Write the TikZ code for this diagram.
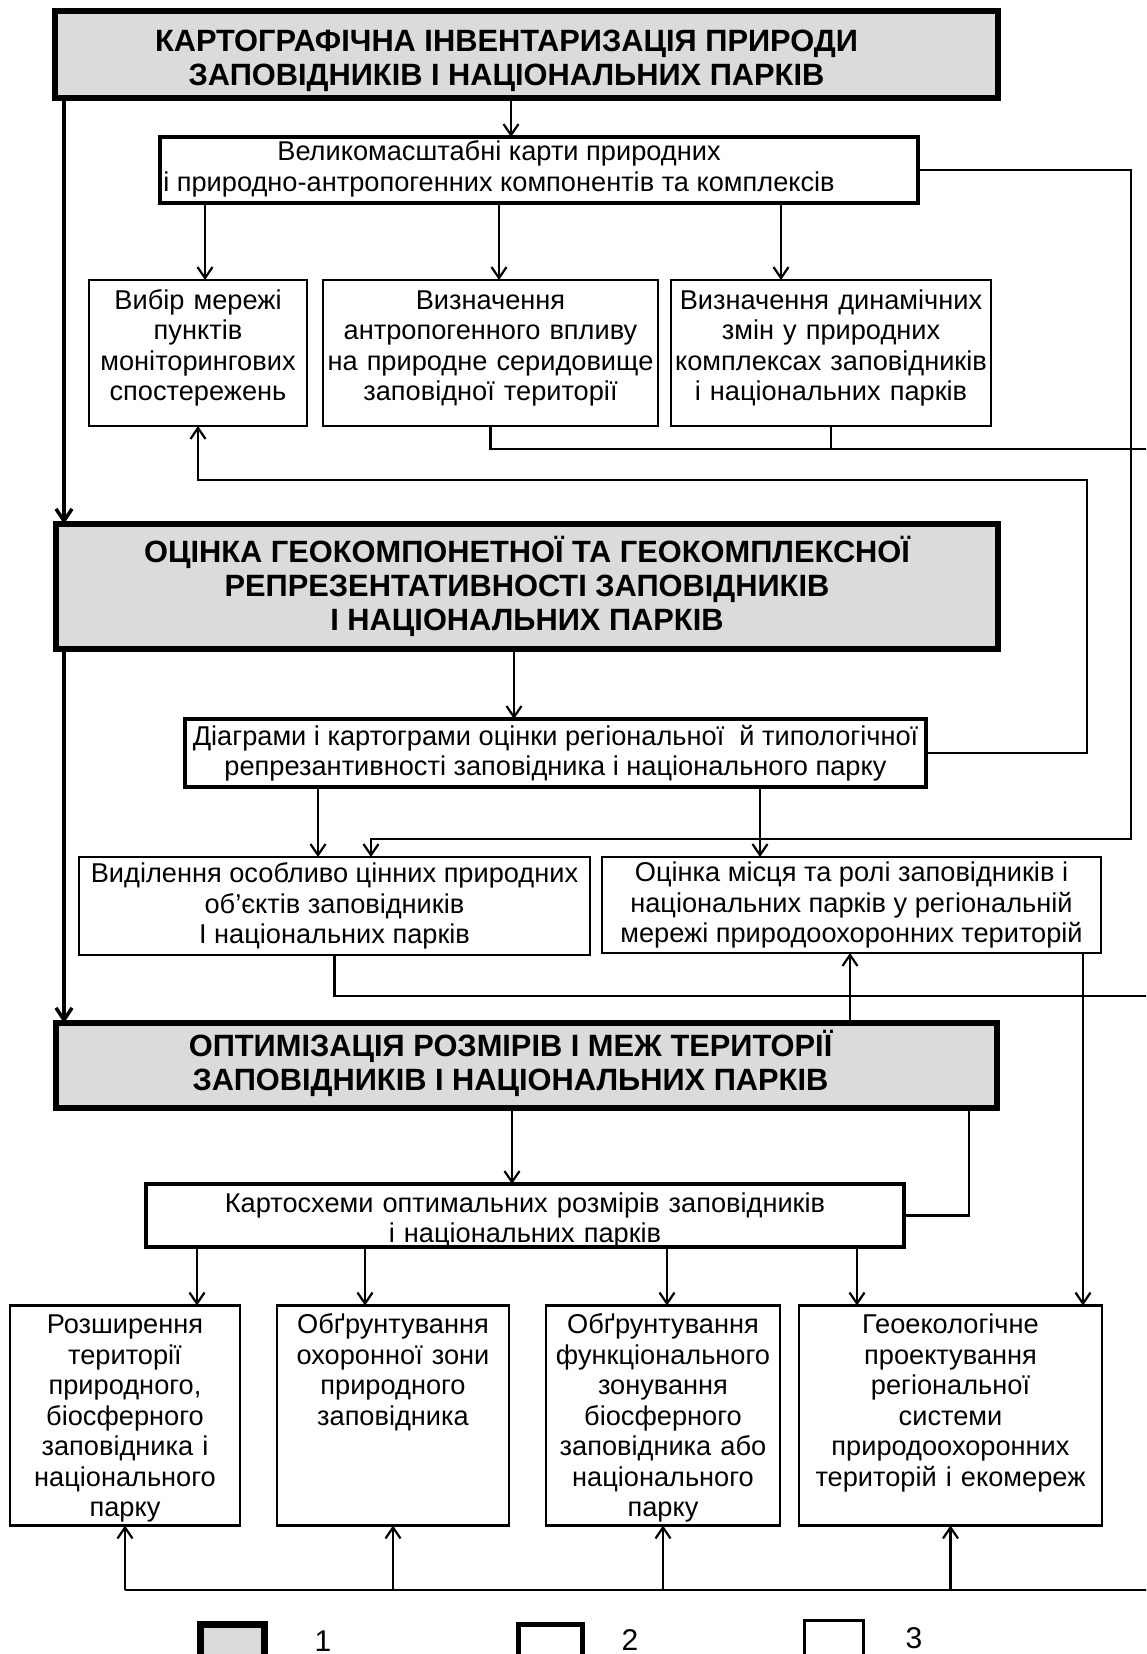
\documentclass[tikz,border=0pt]{standalone}
\usepackage{fontspec}
\setmainfont{Liberation Sans}
\usetikzlibrary{arrows.meta,calc,positioning}

\begin{document}
\begin{tikzpicture}[
          x=1pt, y=-1pt,
          every node/.style={inner sep=0pt, outer sep=0pt},
          head/.style={draw, line width=6.5pt, fill=black!14, align=center, font=\fontsize{30.8}{34}\selectfont\bfseries},
          mainbox/.style={draw, line width=4.5pt, fill=white, align=center, font=\fontsize{27.2}{30.5}\selectfont},
          box/.style={draw, line width=2.5pt, fill=white, align=center, font=\fontsize{27.2}{30.5}\selectfont},
          topbox/.style={box, anchor=north, inner ysep=6pt},
          tallbox/.style={topbox, text height=22pt, text depth=186pt},
          legtext/.style={anchor=base, font=\fontsize{30}{34}\selectfont},
          link/.style={line width=2.2pt},
          arr/.style={link, -{Straight Barb[length=11pt, width=15pt]}},
          trunk/.style={line width=3.5pt, -{Straight Barb[length=12pt, width=16pt]}}
      ]
        \useasboundingbox[fill=white] (0,0) rectangle (1146,1654);
        \clip (0,0) rectangle (1146,1654);

        % first stage
        \node[head, minimum width=943, minimum height=87] (inv) at (526.5,54.5)
          {\raisebox{-7pt}[\height][\depth]{\begin{tabular}{@{}c@{}}КАРТОГРАФІЧНА ІНВЕНТАРИЗАЦІЯ ПРИРОДИ\\ЗАПОВІДНИКІВ І НАЦІОНАЛЬНИХ ПАРКІВ\end{tabular}}\hspace*{40pt}};
        \node[mainbox, minimum width=758, minimum height=66] (maps) at (539,170)
          {\begin{tabular}{@{}c@{}}Великомасштабні карти природних\\і природно-антропогенних компонентів та комплексів\end{tabular}\hspace*{80pt}};
        \node[topbox, text width=218, text height=23pt, text depth=111pt] (mon) at (198,280) {Вибір мережі\\пунктів\\моніторингових\\спостережень};
        \node[topbox, text width=335, text height=23pt, text depth=111pt] (anth) at (490.5,280) {Визначення\\антропогенного впливу\\на природне серидовище\\заповідної території};
        \node[topbox, text width=320, text height=23pt, text depth=111pt] (dyn) at (831,280) {Визначення динамічних\\змін у природних\\комплексах заповідників\\і національних парків};

        % second stage
        \node[head, minimum width=942, minimum height=125] (repr) at (527,586.5)
          {ОЦІНКА ГЕОКОМПОНЕТНОЇ ТА ГЕОКОМПЛЕКСНОЇ\\РЕПРЕЗЕНТАТИВНОСТІ ЗАПОВІДНИКІВ\\І НАЦІОНАЛЬНИХ ПАРКІВ};
        \node[mainbox, minimum width=741, minimum height=68] (diag) at (555.5,753)
          {Діаграми і картограми оцінки регіональної~ й типологічної\\репрезантивності заповідника і національного парку};
        \node[box, minimum width=511, minimum height=98] (sel) at (334.5,906) {Виділення особливо цінних природних\\об’єктів заповідників\\І національних парків};
        \node[box, minimum width=499, minimum height=96] (role) at (851.5,905) {Оцінка місця та ролі заповідників і\\національних парків у регіональній\\мережі природоохоронних територій};

        % third stage
        \node[head, minimum width=941, minimum height=85] (opt) at (526.5,1065.5)
          {\begin{tabular}{@{}c@{}}ОПТИМІЗАЦІЯ РОЗМІРІВ І МЕЖ ТЕРИТОРІЇ\\ЗАПОВІДНИКІВ І НАЦІОНАЛЬНИХ ПАРКІВ\end{tabular}\hspace*{32pt}};
        \node[mainbox, anchor=north, inner ysep=6pt, text width=758, text height=22pt, text depth=29pt] (karto) at (525,1184)
          {Картосхеми оптимальних розмірів заповідників\\і національних парків};
        \node[tallbox, text width=230] (ext) at (125,1305.5) {Розширення\\території\\природного,\\біосферного\\заповідника і\\національного\\парку};
        \node[tallbox, text width=232] (buf) at (393,1305.5) {Обґрунтування\\охоронної зони\\природного\\заповідника};
        \node[tallbox, text width=234] (zon) at (663,1305.5) {Обґрунтування\\функціонального\\зонування\\біосферного\\заповідника або\\національного\\парку};
        \node[tallbox, text width=303] (geo) at (950.5,1305.5) {Геоекологічне\\проектування\\регіональної\\системи\\природоохоронних\\територій і екомереж};

        % legend
        \node[head, line width=7pt, minimum width=64, minimum height=50] (leg1) at (232.5,1649.5) {};
        \node[draw, line width=5pt, minimum width=64, minimum height=50] (leg2) at (550.5,1649.5) {};
        \node[draw, line width=3pt, minimum width=59, minimum height=50] (leg3) at (834,1645.5) {};
        \node[legtext] (leg1txt) at (323,1651) {1};
        \node[legtext] (leg2txt) at (630,1650) {2};
        \node[legtext] (leg3txt) at (914,1648) {3};

        % points where lines leave the picture or turn
        \coordinate (rimA) at (1150,449);
        \coordinate (rimB) at (1150,996);
        \coordinate (rimC) at (1150,1590);
        \coordinate (backA) at (1087,480);
        \coordinate (backB) at (1131,839);

        \draw[trunk] ([xshift=9pt]inv.south west) -- ([xshift=8pt]repr.north west);
        \draw[trunk] ([xshift=8pt]repr.south west) -- ([xshift=8pt]opt.north west);

        \draw[arr] ([xshift=-15.5pt]inv.south) -- ([xshift=-28pt]maps.north);
        \draw[arr] ([xshift=-334pt]maps.south) -- ([xshift=7pt]mon.north);
        \draw[arr] ([xshift=-40pt]maps.south) -- ([xshift=8.5pt]anth.north);
        \draw[arr] ([xshift=242pt]maps.south) -- ([xshift=-50pt]dyn.north);
        \draw[link] (anth.south) |- (rimA);
        \draw[link] (dyn.south) -- (dyn.south |- rimA);
        \draw[arr] (diag.east) -| (backA) -| (mon.south);
        \draw[arr] (maps.east) -| (backB) -| ([xshift=36.5pt]sel.north);

        \draw[arr] ([xshift=-13pt]repr.south) -- ([xshift=-41.5pt]diag.north);
        \draw[arr] ([xshift=-237.5pt]diag.south) -- ([xshift=-16.5pt]sel.north);
        \draw[arr] ([xshift=204.5pt]diag.south) -- ([xshift=-91.5pt]role.north);
        \draw[link] (sel.south) |- (rimB);
        \draw[arr] ([xshift=323.5pt]opt.north) -- ([xshift=-1.5pt]role.south);
        \draw[arr] ([xshift=-18pt]role.south east) -- ([xshift=132.5pt]geo.north);

        \draw[arr] ([xshift=-14.5pt]opt.south) -- ([xshift=-13pt]karto.north);
        \draw[link] ([xshift=442.5pt]opt.south) |- (karto.east);
        \draw[arr] ([xshift=-328pt]karto.south) -- ([xshift=72pt]ext.north);
        \draw[arr] ([xshift=-160pt]karto.south) -- ([xshift=-28pt]buf.north);
        \draw[arr] ([xshift=142pt]karto.south) -- ([xshift=4pt]zon.north);
        \draw[arr] ([xshift=332pt]karto.south) -- ([xshift=-93.5pt]geo.north);

        \draw[link] (ext.south |- rimC) -- (rimC);
        \draw[arr] (ext.south |- rimC) -- (ext.south);
        \draw[arr] (buf.south |- rimC) -- (buf.south);
        \draw[arr] (zon.south |- rimC) -- (zon.south);
        \draw[arr] (geo.south |- rimC) -- (geo.south);
      \end{tikzpicture}
\end{document}
